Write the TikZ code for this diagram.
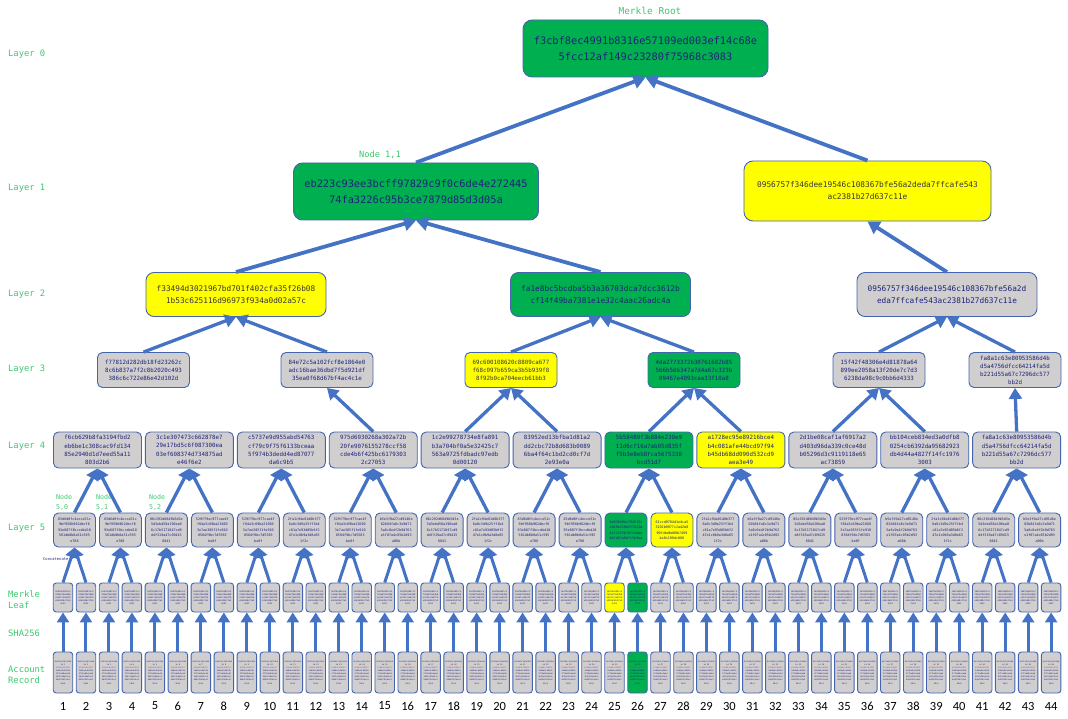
\documentclass[tikz,border=0pt]{standalone}
\usepackage{fontspec}
\setmainfont{Carlito}
\newfontfamily\monof{DejaVu Sans Mono}
\usetikzlibrary{arrows.meta}
\definecolor{lblgreen}{RGB}{60,200,110}
\definecolor{fgreen}{RGB}{0,176,80}
\definecolor{fyellow}{RGB}{255,255,0}
\definecolor{fgray}{RGB}{208,206,206}
\definecolor{bord}{RGB}{68,100,176}
\definecolor{arr}{RGB}{68,114,196}
\definecolor{navy}{RGB}{30,35,120}
\definecolor{dgray}{RGB}{55,55,55}
\definecolor{rtext}{RGB}{205,60,60}
\def\tA{83d6d0fc4ecce51c\\9bf958b962dbcf6\\93e607f3bccdbd10\\561db0b0a51c595\\e788}
\def\tB{06c292d6849b5d3e\\5d3ebd58a196ea0\\6c17b5171047cd9\\d4f319a47c09415\\6841}
\def\tC{529f79ec977cae4f\\f84a3c69ba21660\\3e7ae385f1fe910\\8584f9bc7d5583\\be0f}
\def\tD{2fa1c94e81d0b377\\6a0c3d9e25ff1b4\\c81a7e93d05b6f2\\47e1c0b9a3d8e65\\1f2c}
\def\tE{b5e3f0a27cd9146e\\02b84fa6c3e9d71\\5a8c0e4f2b9d763\\e1f07a4c85b2d93\\a06b}
\def\tG{5e93649dc7945f5c\\2849e250b5f7822d\\81122f5b7d7f4aba\\6b2d67a6b7c5b9ea}
\def\tY{61ccd9784d1e4ca5\\3192b8977c2a42b8\\90f4bd0d08b7499\\4a0c199dc088}
\begin{document}
\begin{tikzpicture}[x=1pt,y=-1pt,
  hbox/.style={draw=bord, line width=0.9pt, align=center, inner sep=0pt, text=navy},
  lbl/.style={font=\monof\fontsize{8.8}{11}\selectfont, text=lblgreen, anchor=west, align=left, inner sep=0pt},
  toplink/.style={draw=arr, line width=3.8pt, -{Triangle[length=12pt,width=14pt]}},
  link/.style={draw=arr, line width=3.3pt, -{Triangle[length=11pt,width=13pt]}},
  slink/.style={draw=arr, line width=3pt, -{Triangle[length=10pt,width=12pt]}},
  bigbox/.style={hbox, rounded corners=9pt, minimum width=245pt, minimum height=57pt, font=\monof\fontsize{10.3}{16}\selectfont},
  l2box/.style={hbox, rounded corners=8pt, minimum width=180pt, minimum height=44pt, font=\monof\fontsize{7.75}{11.5}\selectfont},
  l3box/.style={hbox, rounded corners=5pt, minimum width=92pt, minimum height=35pt, font=\monof\fontsize{5.8}{8}\selectfont},
  l4box/.style={hbox, rounded corners=5pt, minimum width=88pt, minimum height=36pt, font=\monof\fontsize{5.8}{8.3}\selectfont},
  l5box/.style={hbox, rounded corners=5pt, minimum width=42pt, minimum height=34pt, font=\monof\fontsize{3.4}{5.5}\selectfont},
  leafbox/.style={hbox, rounded corners=3pt, minimum width=19.5pt, minimum height=29pt, font=\monof\fontsize{2.1}{2.9}\selectfont},
  acctbox/.style={hbox, rounded corners=3pt, minimum width=19.5pt, minimum height=41pt, font=\monof\fontsize{1.95}{3.1}\selectfont},
  numlbl/.style={font=\fontsize{12.5}{14}\selectfont, text=black, inner sep=0pt}
]
\useasboundingbox (0,0) rectangle (1068,719);

% layer labels
\node[lbl] (lab0) at (8,54) {Layer 0};
\node[lbl] (lab1) at (8,188) {Layer 1};
\node[lbl] (lab2) at (8,294) {Layer 2};
\node[lbl] (lab3) at (8,369) {Layer 3};
\node[lbl] (lab4) at (8,446) {Layer 4};
\node[lbl] (lab5) at (8,528) {Layer 5};
\node[lbl] (labml) at (8,599.5) {Merkle\\Leaf};
\node[lbl] (labsha) at (8,633) {SHA256};
\node[lbl] (labac) at (8,674.5) {Account\\Record};

% layer 0 and 1
\node[bigbox, fill=fgreen] (root) at (645.5,48.5) {f3cbf8ec4991b8316e57109ed003ef14c68e\\5fcc12af149c23280f75968c3083};
\node[font=\monof\fontsize{9.5}{11}\selectfont, text=lblgreen] (rootlbl) at (650,11) {Merkle Root};
\node[bigbox, fill=fgreen] (n11) at (416,191.5) {eb223c93ee3bcff97829c9f0c6de4e272445\\74fa3226c95b3ce7879d85d3d05a};
\node[font=\monof\fontsize{8.7}{10}\selectfont, text=lblgreen] (n11lbl) at (380,155) {Node 1,1};
\node[bigbox, fill=fyellow, minimum width=247pt, minimum height=60pt, text=dgray, font=\monof\fontsize{7.8}{12}\selectfont] (l1r) at (867.5,191) {0956757f346dee19546c108367bfe56a2deda7ffcafe543\\ac2381b27d637c11e};

% layer 2
\node[l2box, fill=fyellow, text=dgray] (l2a) at (236,294.5) {f33494d3021967bd701f402cfa35f26b08\\1b53c625116d96973f934a0d02a57c};
\node[l2box, fill=fgreen] (l2b) at (600.5,294.5) {fa1e8bc5bcdba5b3a36703dca7dcc3612b\\cf14f49ba7381e1e32c4aac26adc4a};
\node[l2box, fill=fgray] (l2c) at (947,294.5) {0956757f346dee19546c108367bfe56a2d\\eda7ffcafe543ac2381b27d637c11e};

% layer 3
\node[l3box, fill=fgray] (l3a) at (143.5,370) {f77812d282db18fd23262c\\8c6b837a7f2c8b2020c493\\386c6c722e86e42d102d};
\node[l3box, fill=fgray] (l3b) at (327,370) {84e72c5a102fcf8e1864e0\\adc16bae36dbd7f5d921df\\35ea0f68d67bf4ac4c1e};
\node[l3box, fill=fyellow, text=dgray] (l3c) at (511,370) {69c600108620c8809ca677\\f68c097b659ca3b5b939f8\\8f92b0ca704eecb61bb3};
\node[l3box, fill=fgreen] (l3d) at (694,370) {4da2773372b30761682b85\\566b506347a7d4a67c323b\\09467e4093caa33f10a8};
\node[l3box, fill=fgray] (l3e) at (879,370) {15f42f48306e4d81878a64\\899ee2058a13f20de7c7d3\\6238da98c9c0bb6d4333};
\node[l3box, fill=fgray] (l3f) at (1015,370) {fa8a1c63e80953586d4b\\d5a4756dfcc64214fa5d\\b221d55a67c7296dc577\\bb2d};

% layer 4
\foreach \j/\t/\c in {
 0/{f6cb629b8fa3194fbd2\\eb6be1c308cac9fd134\\85e2940d1d7eed55a11\\803d2b6}/fgray,
 1/{3c1e307473c662878e7\\29e17bd5c6f087300ea\\03ef608374d734875ad\\e46f6e2}/fgray,
 2/{c5737e9d955abd54763\\cf79c9f75f6133bceaa\\5f974b3dedd4ed87077\\da6c9b5}/fgray,
 3/{975d6930268a302a72b\\20fe9076155278ccf58\\cde4b6f425bc6179303\\2c27053}/fgray,
 4/{1c2e99278734e8fa891\\b3a704bf0a5e32425c7\\563a9725fdbadc97edb\\0d00120}/fgray,
 5/{83952ed13bfba1d81a2\\dd2cbc72b8d683b0089\\6ba4f64c1bd2cd0cf7d\\2e93e0a}/fgray,
 6/{5b58480f3b884e230e9\\11d6cf16a7ab05d835f\\f5b3e8eb8fca5675338\\bcd51d7}/fgreen,
 7/{a1728ec95e89216bce4\\b4c081afe44bcd97f94\\b45db68dd090d532cd9\\aea3e49}/fyellow,
 8/{2d1be08caf1af6917a2\\d403d96da339c0ce48d\\b05296d3c9119118e65\\ac73859}/fgray,
 9/{bb104ceb834ed3a0dfb8\\0254cb6392da95682923\\db4d44a4827f14fc1976\\3003}/fgray,
 10/{fa8a1c63e80953586d4b\\d5a4756dfcc64214fa5d\\b221d55a67c7296dc577\\bb2d}/fgray} {
  \pgfmathsetmacro\xx{63+(4*\j+1.5)*22.98}
  \node[l4box, fill=\c] (l4-\j) at (\xx,450) {\t};
}

% layer 5
\foreach \j/\t/\c in {0/A/fgray,1/A/fgray,2/B/fgray,3/C/fgray,4/C/fgray,5/D/fgray,6/C/fgray,7/E/fgray,
  8/B/fgray,9/D/fgray,10/A/fgray,11/A/fgray,12/G/fgreen,13/Y/fyellow,14/D/fgray,15/E/fgray,
  16/B/fgray,17/C/fgray,18/E/fgray,19/D/fgray,20/B/fgray,21/E/fgray} {
  \pgfmathsetmacro\xx{63+(2*\j+0.5)*22.98}
  \node[l5box, fill=\c] (l5-\j) at (\xx,530) {\csname t\t\endcsname};
}

% leaves, account records, numbers
\foreach \k/\lc/\ac in {1/fgray/fgray,2/fgray/fgray,3/fgray/fgray,4/fgray/fgray,5/fgray/fgray,6/fgray/fgray,
 7/fgray/fgray,8/fgray/fgray,9/fgray/fgray,10/fgray/fgray,11/fgray/fgray,12/fgray/fgray,13/fgray/fgray,
 14/fgray/fgray,15/fgray/fgray,16/fgray/fgray,17/fgray/fgray,18/fgray/fgray,19/fgray/fgray,20/fgray/fgray,
 21/fgray/fgray,22/fgray/fgray,23/fgray/fgray,24/fgray/fgray,25/fyellow/fgray,26/fgreen/fgreen,
 27/fgray/fgray,28/fgray/fgray,29/fgray/fgray,30/fgray/fgray,31/fgray/fgray,32/fgray/fgray,33/fgray/fgray,
 34/fgray/fgray,35/fgray/fgray,36/fgray/fgray,37/fgray/fgray,38/fgray/fgray,39/fgray/fgray,40/fgray/fgray,
 41/fgray/fgray,42/fgray/fgray,43/fgray/fgray,44/fgray/fgray} {
  \pgfmathsetmacro\xx{63+(\k-1)*22.98}
  \node[leafbox, fill=\lc] (lf\k) at (\xx,597.5) {1b4f0e9851c2\\7d3a6f0e94b8\\e21d7c5a03f6\\e9b1d48c27a5\\3e91};
  \node[acctbox, fill=\ac] (ac\k) at (\xx,672.5) {\color{navy}0x3fa9c1d7e2b4\\id \k\\\color{rtext}b7e04c91d25f\\3a86e0c4d91b\\27f5a80c6e4d\\3b97e28a15c6\\0d94f2b7a1e3\\58c0};
  \node[numlbl] (num\k) at (\xx,706) {\k};
  \draw[slink] (ac\k.north) -- (lf\k.south);
}

% node labels on layer 5
\node[lbl, anchor=north west, font=\monof\fontsize{6.6}{10}\selectfont] (nd50) at (56,494) {Node\\5,0};
\node[lbl, anchor=north west, font=\monof\fontsize{6.6}{10}\selectfont] (nd51) at (96,494) {Node\\5,1};
\node[lbl, anchor=north west, font=\monof\fontsize{6.6}{10}\selectfont] (nd52) at (149,494) {Node\\5,2};
\node[anchor=west, inner sep=0pt, text=navy, font=\monof\fontsize{3.8}{4}\selectfont] (concat) at (43,559) {Concatenate};

% leaf -> layer 5
\foreach \j in {0,...,21} {
  \pgfmathtruncatemacro\a{2*\j+1}
  \pgfmathtruncatemacro\b{2*\j+2}
  \draw[slink] (lf\a.north) -- (l5-\j.south);
  \draw[slink] (lf\b.north) -- (l5-\j.south);
}
% layer 5 -> layer 4
\foreach \j in {0,...,10} {
  \pgfmathtruncatemacro\a{2*\j}
  \pgfmathtruncatemacro\b{2*\j+1}
  \draw[link] (l5-\a.north) -- (l4-\j.south);
  \draw[link] (l5-\b.north) -- (l4-\j.south);
}
% layer 4 -> layer 3
\draw[link] (l4-3.north) -- (l3b.south);
\draw[link] (l4-4.north) -- (l3c.south);
\draw[link] (l4-5.north) -- (l3c.south);
\draw[link] (l4-6.north) -- (l3d.south);
\draw[link] (l4-7.north) -- (l3d.south);
\draw[link] (l4-8.north) -- (l3e.south);
\draw[link] (l4-9.north) -- (l3e.south);
\draw[link] (l4-10.north) -- (l3f.south);
% layer 3 -> layer 2
\draw[link] (l3a.north) -- (l2a.south);
\draw[link] (l3b.north) -- (l2a.south);
\draw[link] (l3c.north) -- (l2b.south);
\draw[link] (l3d.north) -- (l2b.south);
\draw[link] (l3e.north) -- (l2c.south);
\draw[link] (l3f.north) -- (l2c.south);
% layer 2 -> layer 1
\draw[toplink] (l2a.north) -- (n11.south);
\draw[toplink] (l2b.north) -- (n11.south);
\draw[toplink] (l2c.north) -- (l1r.south);
% layer 1 -> root
\draw[toplink] (n11.north) -- (root.south);
\draw[toplink] (l1r.north) -- (root.south);
\end{tikzpicture}
\end{document}
